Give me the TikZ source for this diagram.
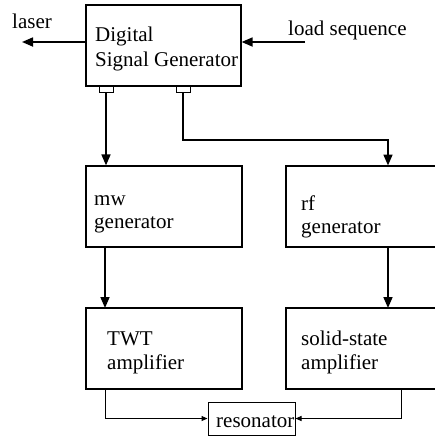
\documentclass[tikz,border=0pt]{standalone}
\usepackage{fontspec}
\setmainfont{Liberation Serif}
\usetikzlibrary{arrows.meta}
\begin{document}
\begin{tikzpicture}[x=1pt,y=-1pt,
  box/.style={draw,line width=1.2pt,inner sep=0pt},
  port/.style={draw,line width=0.9pt,fill=white,inner sep=0pt,minimum width=14pt,minimum height=6pt},
  lbl/.style={anchor=base west,inner sep=0pt,font=\fontsize{21}{24}\selectfont},
  flow/.style={line width=1.7pt,-{Triangle[length=11pt,width=9pt]}},
  feed/.style={line width=1pt,-{Triangle[length=6pt,width=5pt]}}]
\useasboundingbox (0,0) rectangle (435,437);
% blocks
\node[box,minimum width=155pt,minimum height=81pt] (dsg) at (163.5,45.5) {};
\node[box,minimum width=156pt,minimum height=81pt] (mw) at (164,206.5) {};
\node[box,minimum width=160pt,minimum height=81pt] (rf) at (366,206.5) {};
\node[box,minimum width=156pt,minimum height=81pt] (twt) at (164,348.5) {};
\node[box,minimum width=160pt,minimum height=81pt] (ss) at (366,348.5) {};
\node[box,line width=1pt,minimum width=87pt,minimum height=33pt] (res) at (251.5,418.5) {};
% output ports of the generator
\node[port] (p1) at (106,89) {};
\node[port] (p2) at (183,89) {};
% texts
\node[lbl] (t1) at (95,41) {Digital};
\node[lbl] (t2) at (95,66) {Signal Generator};
\node[lbl] (t3) at (94,205) {mw};
\node[lbl] (t4) at (94,228) {generator};
\node[lbl] (t5) at (301,210) {rf};
\node[lbl] (t6) at (301,233) {generator};
\node[lbl] (t7) at (107,345) {TWT};
\node[lbl] (t8) at (107,369) {amplifier};
\node[lbl] (t9) at (301,345) {solid-state};
\node[lbl] (t10) at (301,369) {amplifier};
\node[lbl] (t11) at (216,427) {resonator};
\node[lbl] (laser) at (12,28) {laser};
\node[lbl] (load) at (288,35) {load sequence};
% external connections
\coordinate (lout) at (22,42);
\coordinate (lin) at (305,42);
\draw[flow] (dsg.west |- lout) -- (lout);
\draw[flow] (lin) -- (dsg.east |- lin);
% signal paths
\draw[flow] (p1.south) -- (p1.south |- mw.north);
\draw[flow] (p2.south) |- (250,140) -| (388,165.5);
\draw[flow] (388,247) -- (388,308);
\draw[flow] (105,247) -- (105,308);
\draw[feed] (105,389) |- (res.west);
\draw[feed] (401,389) |- (res.east);
\end{tikzpicture}
\end{document}
